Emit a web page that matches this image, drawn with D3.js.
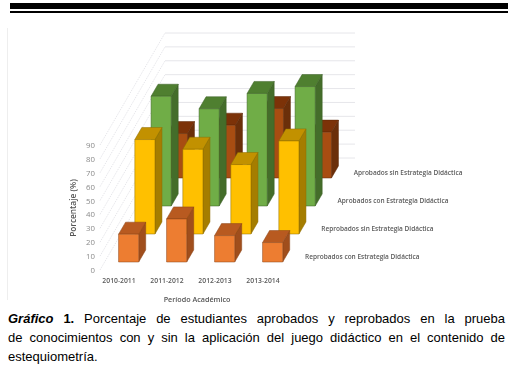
<!DOCTYPE html>
<html>
<head>
<meta charset="utf-8">
<script src="https://cdn.jsdelivr.net/npm/d3@7"></script>
<style>
html, body { margin: 0; padding: 0; background: #fff; }
svg { display: block; }
</style>
</head>
<body>
<div id="chart"></div>
<script>
const width = 512, height = 366;

const periods = ["2010-2011", "2011-2012", "2012-2013", "2013-2014"];
const yTicks = [0, 10, 20, 30, 40, 50, 60, 70, 80, 90];
// front row first
const seriesNames = [
  "Reprobados con Estrategia Didáctica",
  "Reprobados sin Estrategia Didáctica",
  "Aprobados con Estrategia Didáctica",
  "Aprobados sin Estrategia Didáctica"
];
const reprobadosCon = [20, 31, 19, 14];
const reprobadosSin = [68, 61, 50, 67];
const aprobadosCon = [79, 70, 81, 86];
const aprobadosSin = [32, 38, 50, 33];
const seriesValues = [reprobadosCon, reprobadosSin, aprobadosCon, aprobadosSin];

const frontColors = ["#ed7d31", "#ffc000", "#70ad47", "#a84d12"];
const topColors = ["#b85a20", "#c29100", "#4f7f30", "#7c3208"];
const sideColors = ["#a04e1c", "#a57d00", "#446d2a", "#6b2f0a"];

const captionLines = [
  "Porcentaje de estudiantes aprobados y reprobados en la prueba",
  "de conocimientos con y sin la aplicación del juego didáctico en el contenido de",
  "estequiometría."
];

const svg = d3.select("#chart").append("svg")
  .attr("width", width)
  .attr("height", height);

// rules on top of the page
svg.append("rect").attr("x", 10).attr("y", 3).attr("width", 498).attr("height", 6).attr("fill", "#000");
svg.append("rect").attr("x", 10).attr("y", 11).attr("width", 498).attr("height", 2).attr("fill", "#000");

const chart = svg.append("g").style("filter", "blur(0.4px)");

// faint frame line of the pasted chart
chart.append("line")
  .attr("x1", 7.5).attr("x2", 7.5).attr("y1", 28).attr("y2", 300)
  .attr("stroke", "#eeeeee");

let x = d3.scaleBand().domain(periods).range([100, 292]).paddingInner(0.58).paddingOuter(0.29);
let y = d3.scaleLinear().domain([0, 90]).range([270, 145]);
// depth: row number -> screen offset
let depthX = d3.scaleLinear().domain([0, 4]).range([0, 65]);
let depthY = d3.scaleLinear().domain([0, 4]).range([0, -112]);

const project = (px, v, z) => [px + depthX(z), y(v) + depthY(z)];
const poly = d3.line();

// walls
const grid = chart.append("g").attr("fill", "none").attr("stroke", "#e6e6ea");
yTicks.forEach(t => {
  grid.append("path").attr("stroke-dasharray", "1.5 1")
    .attr("d", poly([project(100, t, 0), project(100, t, 4)]));
  grid.append("path")
    .attr("d", poly([project(100, t, 4), project(290, t, 4)]));
});

// bars, back row first so the front rows cover them
const barDepth = 0.43, rowInset = 0.286;
d3.range(3, -1, -1).forEach(i => {
  periods.forEach((p, j) => {
    const v = seriesValues[i][j];
    const x0 = x(p), x1 = x0 + x.bandwidth();
    const z0 = i + rowInset, z1 = z0 + barDepth;
    const bar = chart.append("g")
      .attr("stroke", d3.color(sideColors[i]).darker(0.4))
      .attr("stroke-width", 0.5)
      .attr("stroke-linejoin", "round");
    bar.append("path").attr("fill", sideColors[i])
      .attr("d", poly([project(x1, 0, z0), project(x1, 0, z1), project(x1, v, z1), project(x1, v, z0)]) + "Z");
    bar.append("path").attr("fill", topColors[i])
      .attr("d", poly([project(x0, v, z0), project(x1, v, z0), project(x1, v, z1), project(x0, v, z1)]) + "Z");
    bar.append("path").attr("fill", frontColors[i])
      .attr("d", poly([project(x0, 0, z0), project(x1, 0, z0), project(x1, v, z0), project(x0, v, z0)]) + "Z");
  });
});

const labelFont = "'Open Sans', sans-serif";

// axes
const yAxis = chart.append("g")
  .attr("transform", "translate(95,0)")
  .call(d3.axisLeft(y).tickValues(yTicks).tickSize(0).tickPadding(0));
yAxis.select(".domain").remove();
yAxis.selectAll("text").attr("font-family", labelFont).attr("font-size", 7.8).attr("fill", "#8a8a8a");

const xAxis = chart.append("g")
  .attr("transform", "translate(-5,275.5)")
  .call(d3.axisBottom(x).tickSize(0).tickPadding(3));
xAxis.select(".domain").remove();
xAxis.selectAll("text").attr("font-family", labelFont).attr("font-size", 6.8).attr("font-weight", 600).attr("fill", "#5a5a5a");

chart.append("text")
  .attr("x", 197).attr("y", 302)
  .attr("text-anchor", "middle")
  .attr("font-family", labelFont).attr("font-size", 7.2).attr("font-weight", 600).attr("fill", "#555")
  .text("Período Académico");

chart.append("text")
  .attr("transform", "translate(76,208) rotate(-90)")
  .attr("text-anchor", "middle")
  .attr("font-family", labelFont).attr("font-size", 8.3).attr("font-weight", 600).attr("fill", "#555")
  .text("Porcentaje (%)");

// series names along the depth axis
seriesNames.forEach((name, i) => {
  chart.append("text")
    .attr("x", 305 + depthX(i))
    .attr("y", 258.5 + depthY(i))
    .attr("font-family", labelFont).attr("font-size", 6.5).attr("font-weight", 600).attr("fill", "#5a5a5a")
    .text(name);
});

// caption
const captionFont = "'Liberation Sans', Arial, sans-serif";
const capLeft = 8, capRight = 505;
const capY = d3.scaleLinear().domain([0, 2]).range([323, 361]);

const line0 = svg.append("text")
  .attr("x", capLeft).attr("y", capY(0))
  .attr("font-family", captionFont).attr("font-size", 13).attr("fill", "#000");
line0.append("tspan").attr("font-weight", "bold").attr("font-style", "italic").text("Gráfico");
line0.append("tspan").attr("font-weight", "bold").text(" 1.");
line0.append("tspan").text(" " + captionLines[0]);

const line1 = svg.append("text")
  .attr("x", capLeft).attr("y", capY(1))
  .attr("font-family", captionFont).attr("font-size", 13).attr("fill", "#000")
  .text(captionLines[1]);

svg.append("text")
  .attr("x", capLeft).attr("y", capY(2))
  .attr("font-family", captionFont).attr("font-size", 13).attr("fill", "#000")
  .text(captionLines[2]);

// justify the first two lines with word spacing
[line0, line1].forEach(l => {
  const gaps = l.text().split(" ").length - 1;
  const extra = (capRight - capLeft - l.node().getComputedTextLength()) / gaps;
  l.attr("word-spacing", extra);
});
</script>
</body>
</html>
